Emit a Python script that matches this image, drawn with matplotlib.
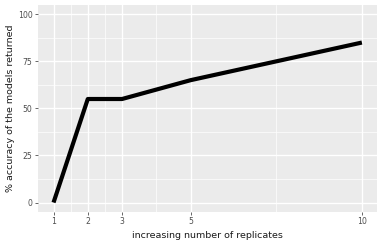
import numpy as np
import matplotlib.pyplot as plt

# replicates vs accuracy
replicates = [1, 2, 3, 5, 10]
accuracy = [0, 55, 55, 65, 85]
x_breaks = [1, 2, 3, 5, 10]
x_minor = [1.5, 2.5, 4, 7.5]
y_breaks = [0, 25, 50, 75, 100]
y_minor = [12.5, 37.5, 62.5, 87.5]

fig = plt.figure(figsize=(3.85, 2.45), dpi=100)
ax = fig.add_axes([0.099, 0.135, 0.881, 0.845])
ax.set_facecolor("#EBEBEB")

for v in x_minor:
    ax.axvline(v, color="white", lw=0.5, zorder=0)
for v in y_minor:
    ax.axhline(v, color="white", lw=0.5, zorder=0)
for v in x_breaks:
    ax.axvline(v, color="white", lw=1.0, zorder=0)
for v in y_breaks:
    ax.axhline(v, color="white", lw=1.0, zorder=0)

ax.plot(replicates, accuracy, color="black", lw=3.0, solid_capstyle="butt", zorder=3)

ax.set_xlim(1 - 0.45, 10 + 0.45)
ax.set_ylim(-5, 105)
ax.set_xticks(x_breaks)
ax.set_xticklabels([str(v) for v in x_breaks])
ax.set_yticks(y_breaks)
ax.set_yticklabels([str(v) for v in y_breaks])
ax.tick_params(axis="both", colors="#4D4D4D", labelsize=5.6, length=2.5, width=0.6, pad=1.5)
ax.tick_params(axis="both", labelcolor="#4D4D4D")

for s in ax.spines.values():
    s.set_visible(False)

ax.set_xlabel("increasing number of replicates", fontsize=6.8, color="#1A1A1A", labelpad=3)
ax.set_ylabel("% accuracy of the models returned", fontsize=6.8, color="#1A1A1A", labelpad=2)

fig.savefig("out.png", dpi=100)
